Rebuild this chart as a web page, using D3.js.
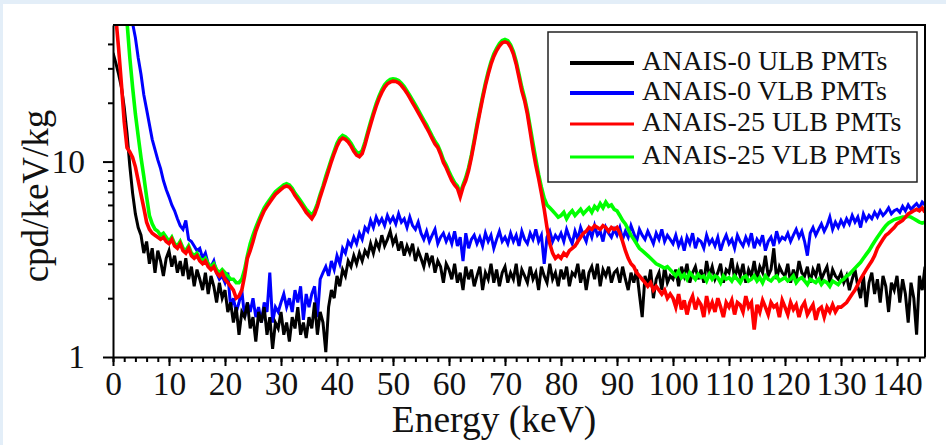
<!DOCTYPE html>
<html>
<head>
<meta charset="utf-8">
<script src="https://d3js.org/d3.v7.min.js"></script>
<style>
  html, body { margin: 0; padding: 0; background: #fff; }
  svg { display: block; }
  text { font-family: "Liberation Serif", "Times New Roman", serif; fill: #111; }
</style>
</head>
<body>
<svg id="chart" width="946" height="445"></svg>
<script>
// Background spectra, 0.5 keV bins starting at 0 keV (cpd/keV/kg)
const binWidth = 0.5;

const anais0ULB = [
  36,32,28,24,19,14,9.5,6.9,5.4,4.6,4.2,3.4,3.9,3.0,3.6,2.7,3.5,3.1,2.6,3.2,
  3.5,2.9,3.3,2.7,3.1,2.6,3.2,2.5,2.9,2.3,2.8,2.5,2.2,2.7,2.1,2.6,2.3,1.9,2.4,2.0,
  2.2,1.7,1.9,1.5,1.8,1.3,1.7,1.6,1.9,1.4,1.6,1.2,1.7,1.5,1.8,1.3,1.6,1.1,1.5,1.4,
  1.7,1.3,1.5,1.2,1.6,1.4,1.8,1.3,1.5,1.25,1.6,1.4,1.9,1.3,1.7,1.5,1.06,1.8,2.2,2.0,
  2.6,2.3,2.8,2.6,3.1,2.9,3.3,3.0,3.4,3.1,3.5,3.3,3.8,3.4,3.9,3.6,4.2,3.7,4.0,4.4,
  3.8,4.1,3.5,3.9,3.3,3.7,3.4,3.8,3.1,3.5,3.2,2.9,3.4,3.0,3.3,2.7,3.1,2.9,2.4,3.0,
  2.8,2.5,3.0,2.4,2.7,2.2,2.9,2.5,2.8,2.3,2.6,2.9,2.2,2.7,2.5,3.0,2.4,2.8,2.3,2.7,
  2.9,2.4,2.7,2.5,3.0,2.3,2.8,2.6,2.4,2.9,2.5,2.7,2.2,2.9,2.6,2.4,3.0,2.5,2.7,2.3,
  2.8,2.5,2.9,2.3,2.7,2.6,3.0,2.4,2.8,2.2,2.7,2.9,2.5,3.0,2.3,2.8,2.6,2.9,2.4,2.7,
  2.8,2.4,2.9,2.5,2.2,2.7,2.4,2.8,2.1,1.6,2.6,2.3,2.8,2.0,2.5,2.7,2.2,2.9,2.4,2.6,
  2.5,2.8,2.3,2.9,2.6,3.0,2.4,2.7,2.9,2.5,2.8,2.4,3.1,2.6,2.9,2.5,2.7,3.0,2.4,2.8,
  2.7,3.2,2.5,2.9,2.6,3.0,2.4,2.8,2.6,3.1,2.5,2.9,2.7,3.3,2.6,2.8,3.6,2.5,2.9,2.7,
  2.6,3.0,2.4,2.8,2.5,3.1,2.7,2.6,2.9,2.4,2.8,2.6,3.0,2.5,2.7,2.9,2.4,2.8,2.6,2.5,
  2.7,2.4,2.6,2.2,2.5,2.8,2.3,2.0,2.6,1.8,2.4,2.7,2.1,2.5,1.9,2.6,2.3,1.7,2.4,2.2,
  2.6,1.9,2.5,2.1,1.5,2.4,2.0,1.3,2.6,2.2,2.9
];

const anais0VLB = [
  90,85,80,75,70,64,57,51,43,34,28,22,18.5,15.5,13,11.5,10.2,9.2,8.0,7.2,
  6.6,6.0,5.6,5.1,4.7,4.5,5.0,4.0,3.9,3.7,3.5,3.6,3.2,3.4,3.0,2.9,3.1,2.7,2.5,2.6,
  2.4,2.7,1.8,2.0,1.7,1.9,2.2,1.6,1.9,1.7,2.0,1.6,1.8,1.5,1.9,1.7,2.7,1.5,1.8,1.7,
  1.9,2.1,1.8,2.0,1.7,2.2,1.9,2.3,1.55,2.1,1.8,2.1,2.3,1.6,2.5,2.7,2.9,2.6,3.1,2.8,
  3.3,3.0,3.6,3.4,3.9,3.7,4.1,3.8,4.3,4.0,4.6,4.4,5.0,4.6,5.2,4.8,5.1,4.7,5.3,4.9,
  5.2,4.8,5.4,4.9,5.1,4.6,5.2,4.7,4.5,4.9,4.3,4.0,4.4,3.9,4.2,4.5,3.8,4.1,4.3,3.9,
  4.2,3.8,4.4,3.7,4.1,3.1,4.3,3.6,4.0,4.2,3.8,4.1,3.7,4.3,3.9,4.2,3.6,4.0,4.4,3.9,
  4.1,3.8,4.3,3.9,4.2,3.7,4.4,4.0,3.8,4.3,4.0,4.5,3.9,4.2,3.0,4.1,4.4,3.9,4.2,4.0,
  4.3,3.9,4.5,4.1,3.8,4.4,4.0,4.6,4.2,3.9,4.5,4.1,4.7,4.2,4.4,3.9,4.6,4.3,4.1,4.5,
  4.2,4.6,4.0,4.4,4.1,4.7,4.3,3.9,4.5,4.2,4.0,4.4,4.1,3.8,4.3,4.0,4.5,3.9,4.2,4.0,
  3.8,4.2,3.7,4.0,3.5,4.1,3.8,4.3,3.6,4.0,3.9,3.6,4.2,3.8,4.0,3.7,4.1,3.5,3.9,4.2,
  3.8,4.0,3.6,4.2,3.9,3.7,4.1,3.8,4.3,3.6,4.0,3.8,4.2,3.5,3.9,4.1,3.7,4.4,3.9,4.1,
  4.0,4.3,3.9,4.2,4.5,4.1,4.4,3.9,3.3,4.3,4.6,4.2,4.5,4.8,4.4,4.7,5.2,4.5,4.9,4.6,
  5.0,4.7,5.1,4.8,5.3,4.9,5.2,4.6,5.4,5.0,5.3,5.1,5.5,5.2,5.6,5.3,5.5,5.8,5.4,5.6,
  5.7,5.5,5.9,5.6,6.0,5.7,5.9,6.1,5.8,6.2,6.0
];

const anais25ULB = [
  75,55,38,25,16,11.8,11.2,10.5,9.4,8.0,6.8,5.8,4.9,4.5,4.3,4.2,4.1,4.0,4.1,3.9,
  3.8,4.0,3.7,3.6,3.8,3.5,3.4,3.6,3.3,3.2,3.3,3.1,3.0,3.1,2.9,2.8,2.9,2.7,2.6,2.7,
  2.5,2.4,2.3,2.2,2.0,2.05,2.2,2.6,3.2,3.5,3.9,4.4,4.8,5.2,5.6,5.9,6.2,6.5,6.8,7.0,
  7.2,7.4,7.5,7.4,7.1,6.7,6.4,6.1,5.8,5.5,5.3,5.1,5.4,5.9,6.6,7.3,8.1,9.0,10.0,11.0,
  12.0,12.8,13.2,13.0,12.6,12.0,11.3,10.8,10.6,11.0,12.2,13.8,15.5,17.3,19.2,21.0,22.6,24.0,25.0,25.5,
  25.8,25.7,25.3,24.5,23.5,22.4,21.2,20.0,18.9,17.8,16.8,15.8,14.9,14.0,13.1,12.3,11.8,10.9,9.9,9.3,
  8.6,8.0,7.6,7.3,6.6,7.4,8.0,9.0,10.5,12.5,15.0,17.8,21.0,24.5,28.0,31.5,34.5,37.0,39.0,40.5,
  41.0,40.5,38.5,35.5,31.5,27.0,23.0,20.5,17.5,14.2,11.5,9.6,8.2,6.9,5.7,4.6,3.8,3.4,3.2,3.3,
  3.2,3.4,3.3,3.5,3.6,3.7,3.9,4.1,4.3,4.4,4.6,4.5,4.7,4.6,4.5,4.7,4.6,4.4,4.6,4.5,
  4.6,4.3,3.9,3.5,3.2,3.0,2.9,2.7,2.6,2.5,2.4,2.3,2.4,2.2,2.3,2.2,2.1,2.2,2.0,2.1,
  2.0,1.8,2.1,1.75,1.95,1.65,1.9,2.05,1.75,1.95,1.85,1.6,2.05,1.75,1.9,1.7,2.0,1.8,1.6,1.9,
  1.8,1.95,1.65,1.9,1.85,1.7,2.05,1.8,1.9,1.38,1.85,1.7,1.95,1.8,1.65,1.9,1.8,1.85,1.6,1.95,
  1.8,1.65,1.9,1.75,1.85,1.6,1.8,1.9,1.65,1.75,1.85,1.55,1.75,1.8,1.6,1.8,1.7,1.85,1.7,1.8,
  1.8,1.85,1.9,2.0,2.1,2.2,2.35,2.5,2.65,2.8,2.95,3.1,3.3,3.6,3.8,4.0,4.2,4.3,4.45,4.6,
  4.8,4.9,5.0,5.2,5.4,5.5,5.6,5.7,5.6,5.8,5.5
];

const anais25VLB = [
  120,110,100,90,75,52,34,24,17.5,13.5,10.5,8.4,6.6,5.3,4.8,4.5,4.4,4.2,4.3,4.1,
  3.9,4.1,3.8,3.7,3.9,3.6,3.5,3.7,3.4,3.3,3.4,3.2,3.1,3.2,3.0,2.9,3.0,2.8,2.7,2.8,
  2.7,2.6,2.5,2.5,2.4,2.4,2.5,2.8,3.3,3.8,4.2,4.6,5.0,5.4,5.8,6.1,6.4,6.7,7.0,7.2,
  7.4,7.6,7.7,7.6,7.3,6.9,6.6,6.3,6.0,5.7,5.5,5.3,5.6,6.1,6.8,7.5,8.4,9.3,10.3,11.3,
  12.4,13.2,13.6,13.4,13.0,12.4,11.7,11.2,11.0,11.4,12.6,14.2,16.0,17.8,19.8,21.6,23.3,24.7,25.7,26.3,
  26.5,26.4,26.0,25.2,24.2,23.0,21.8,20.6,19.5,18.4,17.3,16.3,15.4,14.4,13.5,12.7,12.1,11.2,10.2,9.6,
  8.9,8.3,7.8,7.5,6.9,7.6,8.3,9.3,10.8,12.9,15.5,18.3,21.6,25.2,28.8,32.4,35.5,38.0,40.2,41.6,
  42.2,41.6,39.6,36.6,32.5,28.0,24.0,21.2,18.2,15.0,12.4,10.3,8.6,7.4,6.5,6.0,5.8,5.6,5.4,5.2,
  5.3,5.5,5.1,5.4,5.6,5.3,5.5,5.7,5.4,5.6,5.8,5.5,5.9,5.7,6.1,5.8,6.2,5.9,6.0,5.7,
  5.6,5.3,5.0,4.8,4.5,4.2,4.0,3.8,3.6,3.5,3.4,3.3,3.2,3.1,3.0,2.95,2.9,2.85,2.9,2.8,
  2.7,2.6,2.75,2.55,2.65,2.5,2.7,2.6,2.5,2.65,2.55,2.6,2.45,2.65,2.5,2.6,2.55,2.4,2.6,2.5,
  2.55,2.45,2.6,2.5,2.4,2.55,2.6,2.45,2.5,2.6,2.45,2.55,2.4,2.6,2.5,2.45,2.55,2.6,2.45,2.5,
  2.55,2.45,2.5,2.6,2.4,2.5,2.55,2.45,2.35,2.5,2.45,2.4,2.5,2.35,2.45,2.4,2.3,2.45,2.4,2.35,
  2.45,2.5,2.6,2.65,2.75,2.85,2.95,3.05,3.2,3.35,3.5,3.7,3.9,4.1,4.3,4.5,4.7,4.85,4.95,5.05,
  5.1,5.15,5.2,5.2,5.25,5.2,5.1,5.0,4.9,4.85,4.9
];

const seriesNames = ['ANAIS-0 ULB PMTs', 'ANAIS-0 VLB PMTs', 'ANAIS-25 ULB PMTs', 'ANAIS-25 VLB PMTs'];
const seriesColors = ['#000000', '#0000ff', '#ff0000', '#00ff00'];
const xTicks = [0, 10, 20, 30, 40, 50, 60, 70, 80, 90, 100, 110, 120, 130, 140];
const yTicks = [1, 10];

const series = [anais0ULB, anais0VLB, anais25ULB, anais25VLB].map((vals, i) => ({
  name: seriesNames[i],
  color: seriesColors[i],
  width: i < 2 ? 3 : 3.6,
  values: vals.map((v, j) => ({ e: j * binWidth, v }))
}));

const svg = d3.select('#chart');
const W = 946, H = 445;
const plotL = 113, plotR = 925, plotT = 25, plotB = 357;

// light page border
svg.append('rect').attr('width', W).attr('height', H).attr('fill', '#e3eef8');
svg.append('rect').attr('x', 3).attr('y', 4).attr('width', W - 3).attr('height', H - 4).attr('fill', '#fff');

const x = d3.scaleLinear().domain([0, 145]).range([plotL, plotR]);
const y = d3.scaleLog().domain([1, 50]).range([plotB, plotT]);

svg.append('defs').append('clipPath').attr('id', 'plot-clip')
  .append('rect').attr('x', plotL).attr('y', plotT).attr('width', plotR - plotL).attr('height', plotB - plotT);

// spectra: blue under black, red on top of green
const line = d3.line().x(d => x(d.e)).y(d => y(d.v));
const drawOrder = [1, 0, 3, 2];
svg.append('g').attr('clip-path', 'url(#plot-clip)')
  .selectAll('path')
  .data(drawOrder.map(i => series[i]))
  .join('path')
  .attr('d', d => line(d.values))
  .attr('fill', 'none')
  .attr('stroke', d => d.color)
  .attr('stroke-width', d => d.width)
  .attr('stroke-linejoin', 'miter');

// frame: top and right edges
svg.append('path')
  .attr('d', `M${plotL},${plotT}H${plotR}V${plotB}`)
  .attr('fill', 'none').attr('stroke', '#000').attr('stroke-width', 2);

// x axis: minor ticks every 2 keV, labelled majors every 10
svg.append('g').attr('transform', `translate(0,${plotB})`)
  .call(d3.axisBottom(x).tickValues(d3.range(0, 146, 2)).tickSize(5).tickFormat('').tickSizeOuter(0))
  .call(g => g.select('.domain').remove())
  .call(g => g.selectAll('line').attr('stroke-width', 2));

const xAxis = svg.append('g').attr('transform', `translate(0,${plotB})`)
  .call(d3.axisBottom(x).tickValues(xTicks).tickSize(9).tickPadding(5).tickSizeOuter(0).tickFormat(d3.format('d')));
xAxis.select('.domain').attr('stroke-width', 2);
xAxis.selectAll('line').attr('stroke-width', 2);
xAxis.selectAll('text').attr('font-size', 33.5).attr('fill', '#111');

// y axis: log minor ticks
const yMinor = [2, 3, 4, 5, 6, 7, 8, 9, 20, 30, 40];
svg.append('g').attr('transform', `translate(${plotL},0)`)
  .call(d3.axisLeft(y).tickValues(yMinor).tickSize(5).tickFormat(''))
  .call(g => g.select('.domain').remove())
  .call(g => g.selectAll('line').attr('stroke-width', 2));

const yAxis = svg.append('g').attr('transform', `translate(${plotL},0)`)
  .call(d3.axisLeft(y).tickValues(yTicks).tickSize(10).tickPadding(18).tickSizeOuter(0).tickFormat(d3.format('d')));
yAxis.select('.domain').attr('stroke-width', 2);
yAxis.selectAll('line').attr('stroke-width', 2);
yAxis.selectAll('text').attr('font-size', 33.5).attr('fill', '#111');

// axis titles
svg.append('text')
  .attr('x', 494).attr('y', 432)
  .attr('text-anchor', 'middle')
  .attr('font-size', 37.5)
  .text('Energy (keV)');

svg.append('text')
  .attr('transform', 'translate(48,196) rotate(-90)')
  .attr('text-anchor', 'middle')
  .attr('font-size', 37)
  .text('cpd/keV/kg');

// legend
const legend = svg.append('g');
legend.append('rect')
  .attr('x', 548).attr('y', 32).attr('width', 369).attr('height', 150)
  .attr('fill', '#fff').attr('stroke', '#222').attr('stroke-width', 1.5);

const rowY = [63, 93, 124, 157];
const rowWidth = [4, 4, 3, 3];
const rows = legend.selectAll('g.row')
  .data(series)
  .join('g').attr('class', 'row');
rows.append('line')
  .attr('x1', 570).attr('x2', 634)
  .attr('y1', (d, i) => rowY[i]).attr('y2', (d, i) => rowY[i])
  .attr('stroke', d => d.color)
  .attr('stroke-width', (d, i) => rowWidth[i]);
rows.append('text')
  .attr('x', 642).attr('y', (d, i) => rowY[i] + 7)
  .attr('font-size', 28)
  .text(d => d.name);
</script>
</body>
</html>
